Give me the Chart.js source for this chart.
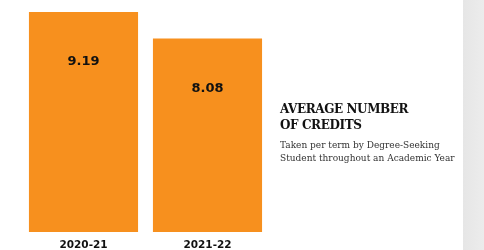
<!DOCTYPE html>
<html>
<head>
<meta charset="utf-8">
<script src="https://cdn.jsdelivr.net/npm/chart.js@4/dist/chart.umd.min.js"></script>
<style>
  html, body { margin: 0; padding: 0; background: #fff; }
  body { width: 484px; height: 250px; position: relative; overflow: hidden; }
  #wrap { position: absolute; left: 0; top: 0; width: 280px; height: 250px; }
  #strip { position: absolute; left: 463px; top: 0; width: 21px; height: 250px;
           background: linear-gradient(to right, #e6e6e6, #ececec); }
  #title { position: absolute; left: 280px; top: 101px; font-family: "DejaVu Serif", serif;
           font-weight: bold; font-size: 12px; line-height: 16px; color: #111; letter-spacing: -0.4px; }
  #sub { position: absolute; left: 280px; top: 139px; font-family: "DejaVu Serif", serif;
         font-size: 9px; line-height: 12.5px; color: #333; }
</style>
</head>
<body>
<div id="wrap"><canvas id="chart"></canvas></div>
<div id="title">AVERAGE NUMBER<br>OF CREDITS</div>
<div id="sub">Taken per term by Degree-Seeking<br>Student throughout an Academic Year</div>
<div id="strip"></div>
<script>
const years = ['2020-21', '2021-22'];
const credits = [9.19, 8.08];
const valueLabels = ['9.19', '8.08'];

// value text drawn inside each bar, a little below its top
const barValues = {
  id: 'barValues',
  afterDatasetsDraw(chart) {
    const ctx = chart.ctx;
    const meta = chart.getDatasetMeta(0);
    ctx.save();
    ctx.font = 'bold 13px "DejaVu Sans", sans-serif';
    ctx.fillStyle = '#111';
    ctx.textAlign = 'center';
    ctx.textBaseline = 'middle';
    meta.data.forEach((bar, i) => {
      ctx.fillText(valueLabels[i], bar.x, bar.y + 50);
    });
    ctx.restore();
  }
};

new Chart(document.getElementById('chart'), {
  type: 'bar',
  data: {
    labels: years,
    datasets: [{
      data: credits,
      backgroundColor: '#F7901E',
      borderWidth: 0,
      barPercentage: 0.88,
      categoryPercentage: 1
    }]
  },
  options: {
    responsive: true,
    maintainAspectRatio: false,
    animation: false,
    layout: { padding: { left: 21.5, right: 10.5, top: 0, bottom: 0 } },
    plugins: { legend: { display: false }, tooltip: { enabled: false } },
    scales: {
      x: {
        grid: { display: false, drawTicks: false },
        border: { display: false },
        ticks: {
          color: '#111',
          padding: 7,
          font: { family: '"DejaVu Sans", sans-serif', weight: 'bold', size: 10.5 }
        },
        afterFit(scale) { scale.height = 18; }
      },
      y: {
        display: false,
        min: 0,
        max: 9.69
      }
    }
  },
  plugins: [barValues]
});
</script>
</body>
</html>
